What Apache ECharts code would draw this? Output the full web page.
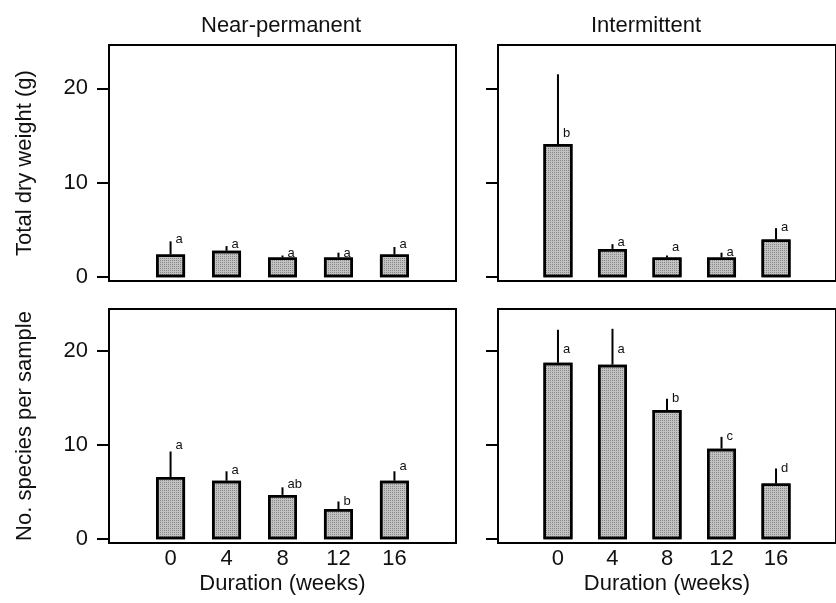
<!DOCTYPE html>
<html>
<head>
<meta charset="utf-8">
<script src="https://cdn.jsdelivr.net/npm/echarts@6/dist/echarts.min.js"></script>
<style>
html, body { margin: 0; padding: 0; background: #fff; }
#main { width: 836px; height: 603px; }
</style>
</head>
<body>
<div id="main"></div>
<script>
// data
var weeks = [0, 4, 8, 12, 16];
var yTicks = [0, 10, 20];

var dryNearMean = [2.4, 2.8, 2.1, 2.1, 2.4];
var dryNearSE = [1.4, 0.5, 0.2, 0.5, 0.8];
var dryNearLetters = ['a', 'a', 'a', 'a', 'a'];
var dryNearLetterY = [4.0, 3.5, 2.5, 2.5, 3.5];

var dryInterMean = [14.1, 3.0, 2.1, 2.1, 4.0];
var dryInterSE = [7.4, 0.5, 0.2, 0.5, 1.2];
var dryInterLetters = ['b', 'a', 'a', 'a', 'a'];
var dryInterLetterY = [15.2, 3.7, 3.2, 2.6, 5.3];

var sppNearMean = [6.6, 6.2, 4.7, 3.2, 6.2];
var sppNearSE = [2.7, 1.0, 0.8, 0.8, 1.0];
var sppNearLetters = ['a', 'a', 'ab', 'b', 'a'];
var sppNearLetterY = [9.9, 7.3, 5.8, 4.0, 7.7];

var sppInterMean = [18.7, 18.5, 13.7, 9.6, 5.9];
var sppInterSE = [3.5, 3.8, 1.2, 1.25, 1.6];
var sppInterLetters = ['a', 'a', 'b', 'c', 'd'];
var sppInterLetterY = [20.1, 20.1, 14.9, 10.85, 7.55];

var FONT = "'Liberation Sans', Arial, sans-serif";

var panels = [
  { grid: { left: 109, top: 45, width: 347, height: 236 }, ymax: 24.6, mean: dryNearMean, se: dryNearSE, letters: dryNearLetters, ly: dryNearLetterY, yLabels: true, xLabels: false, yName: 'Total dry weight (g)' },
  { grid: { left: 498, top: 45, width: 347, height: 236 }, ymax: 24.6, mean: dryInterMean, se: dryInterSE, letters: dryInterLetters, ly: dryInterLetterY, yLabels: false, xLabels: false, yName: '' },
  { grid: { left: 109, top: 309, width: 347, height: 234 }, ymax: 24.4, mean: sppNearMean, se: sppNearSE, letters: sppNearLetters, ly: sppNearLetterY, yLabels: true, xLabels: true, yName: 'No. species per sample' },
  { grid: { left: 498, top: 309, width: 347, height: 234 }, ymax: 24.4, mean: sppInterMean, se: sppInterSE, letters: sppInterLetters, ly: sppInterLetterY, yLabels: false, xLabels: true, yName: '' }
];

var grids = [], xAxes = [], yAxes = [], series = [];

panels.forEach(function (p, k) {
  grids.push(Object.assign({
    show: true, borderColor: '#000', borderWidth: 2, backgroundColor: 'transparent'
  }, p.grid));

  xAxes.push({
    type: 'value', gridIndex: k, min: -4.4, max: 20.4,
    axisLine: { show: true, onZero: false, lineStyle: { color: '#000', width: 2 } },
    axisTick: { show: false },
    splitLine: { show: false },
    axisLabel: {
      show: p.xLabels, customValues: weeks, margin: 5,
      color: '#111', fontSize: 22, fontFamily: FONT
    },
    name: p.xLabels ? 'Duration (weeks)' : '',
    nameLocation: 'middle', nameGap: 30,
    nameTextStyle: { color: '#111', fontSize: 22, fontFamily: FONT }
  });

  yAxes.push({
    type: 'value', gridIndex: k, min: -0.4, max: p.ymax,
    axisLine: { show: true, onZero: false, lineStyle: { color: '#000', width: 2 } },
    axisTick: { show: true, customValues: yTicks, length: 12, lineStyle: { color: '#000', width: 2 } },
    splitLine: { show: false },
    axisLabel: {
      show: p.yLabels, customValues: yTicks, margin: 21,
      color: '#111', fontSize: 22, fontFamily: FONT
    },
    name: p.yName, nameLocation: 'middle', nameGap: 73, nameRotate: 90,
    nameTextStyle: { color: '#111', fontSize: 22, fontFamily: FONT }
  });

  series.push({
    type: 'bar', xAxisIndex: k, yAxisIndex: k, barWidth: 29,
    data: weeks.map(function (w, i) { return [w, p.mean[i]]; }),
    itemStyle: {
      color: '#c2c2c2', borderColor: '#000', borderWidth: 2.5,
      decal: { symbol: 'rect', symbolSize: 1, dashArrayX: [1, 1], dashArrayY: [1, 1], color: 'rgba(0,0,0,0.3)' }
    },
    silent: true
  });

  series.push({
    type: 'custom', xAxisIndex: k, yAxisIndex: k, silent: true, z: 5,
    data: weeks.map(function (w, i) { return [w, p.mean[i], p.mean[i] + p.se[i], p.ly[i]]; }),
    renderItem: function (params, api) {
      var base = api.coord([api.value(0), api.value(1)]);
      var top = api.coord([api.value(0), api.value(2)]);
      var lab = api.coord([api.value(0), api.value(3)]);
      return {
        type: 'group',
        children: [
          { type: 'line', shape: { x1: base[0], y1: base[1], x2: top[0], y2: top[1] },
            style: { stroke: '#000', lineWidth: 2 } },
          { type: 'text', x: lab[0] + 5, y: lab[1],
            style: { text: p.letters[params.dataIndex], fill: '#111', font: '13px ' + FONT,
                     textAlign: 'left', textVerticalAlign: 'middle' } }
        ]
      };
    }
  });
});

var myChart = echarts.init(document.getElementById('main'));
myChart.setOption({
  animation: false,
  title: [
    { text: 'Near-permanent', left: 196, top: 10, textStyle: { color: '#111', fontSize: 22, fontWeight: 'normal', fontFamily: FONT } },
    { text: 'Intermittent', left: 586, top: 10, textStyle: { color: '#111', fontSize: 22, fontWeight: 'normal', fontFamily: FONT } }
  ],
  grid: grids,
  xAxis: xAxes,
  yAxis: yAxes,
  series: series
});
window.addEventListener('resize', function () {
  myChart.resize();
});
</script>
</body>
</html>
